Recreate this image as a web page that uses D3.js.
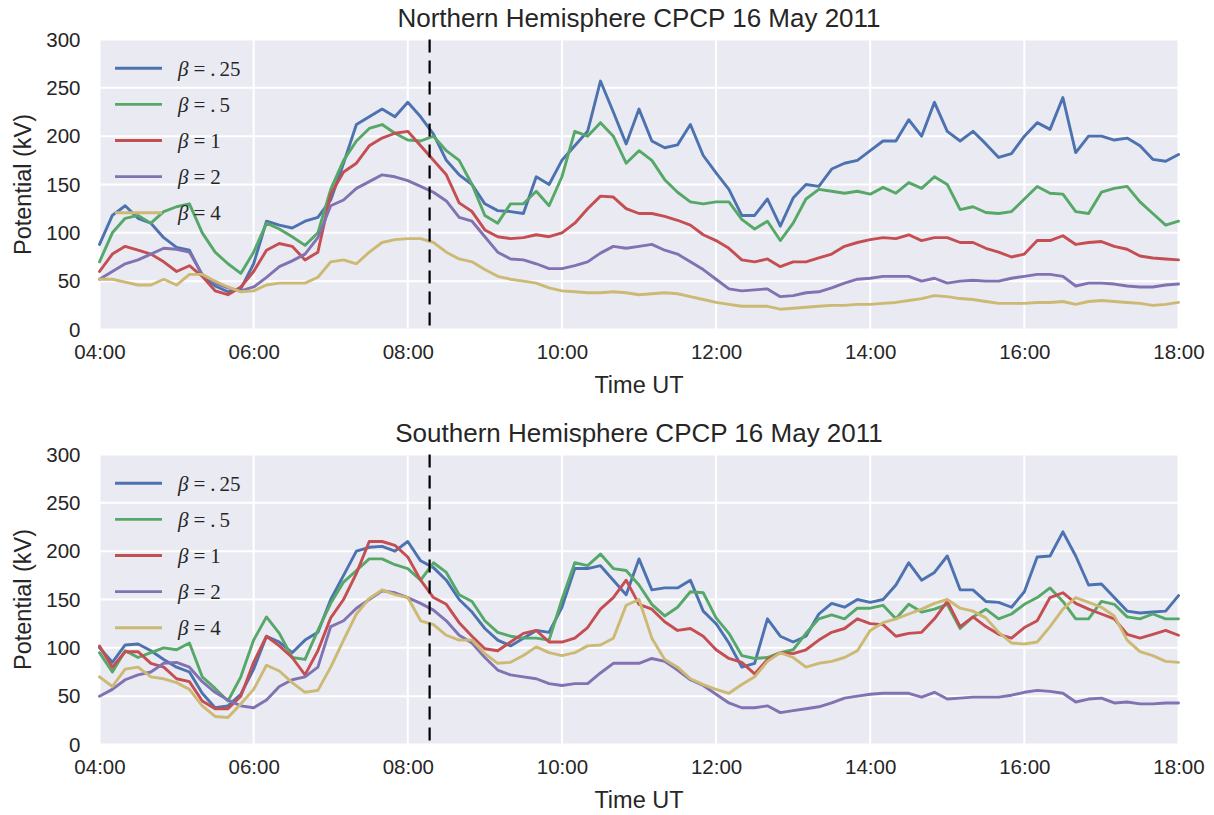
<!DOCTYPE html>
<html>
<head>
<meta charset="utf-8">
<script src="https://cdn.jsdelivr.net/npm/d3@7"></script>
<style>
  body { margin: 0; background: #ffffff; }
  svg { display: block; }
  text { font-family: "Liberation Sans", Arial, Helvetica, sans-serif; fill: #262626; }
</style>
</head>
<body>
<svg id="chart" width="1214" height="815"></svg>
<script>
// Cross polar cap potential, 16 May 2011, sampled every 10 minutes from 04:00 to 18:00 UT
const startTime = new Date(Date.UTC(2011, 4, 16, 4, 0));
const endTime = new Date(Date.UTC(2011, 4, 16, 18, 0));
const sampleMinutes = 10;
const eventTime = new Date(Date.UTC(2011, 4, 16, 8, 17));

const betaLabels = [".25", ".5", "1", "2", "4"];
const betaColors = ["#4C72B0", "#55A868", "#C44E52", "#8172B2", "#CCB974"];
const potentialTicks = [0, 50, 100, 150, 200, 250, 300];
const panelTitles = ["Northern Hemisphere CPCP 16 May 2011", "Southern Hemisphere CPCP 16 May 2011"];

// Northern hemisphere (kV)
const northBeta025 = [88,118,128,115,110,95,85,82,56,45, 39,42,68,112,108,105,112,116,134,172,
  212,220,228,220,235,220,202,175,160,150, 130,123,122,120,158,150,175,190,205,257,
  225,192,228,195,188,191,212,180,162,145, 118,118,135,107,136,150,148,166,172,175,
  185,195,195,217,200,235,205,195,205,192, 178,182,200,214,207,240,183,200,200,196,
  198,190,176,174,181];
const northBeta05 = [70,100,115,118,110,122,127,130,100,80, 68,58,80,110,104,96,87,100,145,175,
  195,208,212,203,196,195,200,185,175,150, 118,110,130,130,143,128,158,205,200,214,
  200,172,185,175,155,142,132,130,132,132, 114,104,112,92,110,135,145,143,141,143,
  140,147,141,152,146,158,150,124,127,121, 120,122,135,148,141,140,122,120,142,146,
  148,132,120,108,112];
const northBeta1 = [60,78,86,82,78,70,60,66,55,40, 36,44,60,82,89,86,72,80,140,163,
  172,190,198,203,205,190,175,160,131,122, 103,96,94,95,98,96,100,110,125,138,
  137,125,120,120,117,113,108,98,92,84, 72,70,73,65,70,70,74,78,86,90,
  93,95,94,98,92,95,95,90,90,84, 80,75,78,92,92,97,88,90,91,86,
  83,76,74,73,72];
const northBeta2 = [52,60,68,72,78,84,83,80,57,48, 43,40,44,54,65,71,78,95,128,134,
  146,153,160,158,154,148,142,133,116,112, 96,80,73,72,68,63,63,66,70,79,
  86,84,86,88,82,78,70,62,52,42, 40,41,42,34,35,38,39,43,48,52,
  53,55,55,55,50,53,48,50,51,50, 50,53,55,57,57,55,45,48,48,47,
  45,44,44,46,47];
const northBeta4 = [52,52,49,46,46,52,46,57,57,50, 44,39,40,46,48,48,48,54,70,72,
  68,80,90,93,94,94,90,80,73,70, 62,55,52,50,48,43,40,39,38,38,
  39,38,36,37,38,37,34,31,28,26, 24,24,24,21,22,23,24,25,25,26,
  26,27,28,30,32,35,34,32,31,29, 27,27,27,28,28,29,26,29,30,29,
  28,27,25,26,28];

// Southern hemisphere (kV)
const southBeta025 = [100,85,103,104,97,88,80,75,53,38, 40,52,78,112,106,95,108,116,150,175,
  200,204,205,200,210,190,183,170,150,137, 120,108,102,110,118,116,142,182,182,185,
  170,155,192,160,162,162,170,138,125,105, 80,84,130,112,106,112,135,146,142,150,
  147,150,165,188,170,178,195,160,160,148, 147,142,158,194,195,220,195,165,166,152,
  138,136,137,138,154];
const southBeta05 = [95,75,97,90,95,100,98,105,70,58, 45,70,108,132,115,90,88,118,146,168,
  180,192,192,186,182,170,188,178,155,148, 128,116,112,110,110,108,150,188,185,197,
  182,180,165,145,133,142,158,157,131,115, 92,89,90,95,98,115,130,134,130,141,
  141,144,130,145,137,140,145,120,132,140, 130,135,145,152,162,148,130,130,148,145,
  132,130,135,130,130];
const southBeta1 = [102,80,96,96,84,80,68,65,45,37, 37,50,85,112,102,90,72,97,131,150,
  177,210,210,206,194,170,152,145,126,112, 99,97,106,115,118,106,106,110,121,140,
  152,170,145,140,127,118,120,112,98,89, 85,73,88,95,94,98,108,116,120,130,
  125,124,112,115,116,130,148,122,132,122, 114,110,121,128,152,157,146,140,135,130,
  114,110,114,118,113];
const southBeta2 = [50,57,67,72,75,84,85,80,65,54, 46,40,38,46,60,67,70,80,122,128,
  141,150,159,157,152,146,139,128,113,105, 90,77,72,70,68,63,61,63,63,74,
  84,84,84,89,86,77,67,61,52,43, 38,38,40,33,35,37,39,43,48,50,
  52,53,53,53,49,54,47,48,49,49, 49,51,54,56,55,53,44,47,48,43,
  44,42,42,43,43];
const southBeta4 = [70,60,78,80,70,68,64,57,40,29, 28,42,57,82,76,64,54,56,80,108,
  135,151,160,155,152,128,124,113,108,108, 94,84,85,92,101,95,92,95,102,103,
  110,144,150,110,88,80,68,62,57,53, 62,70,86,95,90,80,84,86,90,97,
  118,126,130,135,140,146,150,141,138,131, 116,105,104,106,122,140,152,147,142,133,
  108,96,92,86,85];

const northSeries = [northBeta025, northBeta05, northBeta1, northBeta2, northBeta4];
const southSeries = [southBeta025, southBeta05, southBeta1, southBeta2, southBeta4];

const svg = d3.select("#chart");
const plotLeft = 99.5, plotRight = 1178.5, plotHeight = 290;
const panelTops = [39.5, 454.5];

const x = d3.scaleUtc().domain([startTime, endTime]).range([plotLeft, plotRight]);
const sampleTime = i => new Date(startTime.getTime() + i * sampleMinutes * 60000);
const hourFormat = d3.utcFormat("%H:%M");

function drawPanel(top, title, seriesList) {
  const y = d3.scaleLinear().domain([0, 300]).range([top + plotHeight, top]);
  const g = svg.append("g");

  g.append("rect")
    .attr("x", plotLeft).attr("y", top)
    .attr("width", plotRight - plotLeft).attr("height", plotHeight)
    .attr("fill", "#EAEAF2");

  const xTicks = x.ticks(d3.utcHour.every(2));
  g.append("g").selectAll("line.v").data(xTicks).join("line")
    .attr("x1", d => x(d)).attr("x2", d => x(d))
    .attr("y1", top).attr("y2", top + plotHeight)
    .attr("stroke", "#ffffff").attr("stroke-width", 2);
  g.append("g").selectAll("line.h").data(potentialTicks).join("line")
    .attr("x1", plotLeft).attr("x2", plotRight)
    .attr("y1", d => y(d)).attr("y2", d => y(d))
    .attr("stroke", "#ffffff").attr("stroke-width", 2);

  // axes: labels only, no spines or tick marks
  const xAxis = g.append("g")
    .attr("transform", `translate(0,${top + plotHeight})`)
    .call(d3.axisBottom(x).tickValues(xTicks).tickFormat(hourFormat).tickSize(0).tickPadding(15));
  const yAxis = g.append("g")
    .attr("transform", `translate(${plotLeft},0)`)
    .call(d3.axisLeft(y).tickValues(potentialTicks).tickSize(0).tickPadding(19));
  [xAxis, yAxis].forEach(a => {
    a.select(".domain").remove();
    a.attr("font-family", null).attr("font-size", null);
    a.selectAll("text").attr("font-size", 20.5).attr("fill", "#262626");
  });

  const line = d3.line()
    .x((d, i) => x(sampleTime(i)))
    .y(d => y(d));

  seriesList.forEach((values, k) => {
    g.append("path")
      .datum(values)
      .attr("d", line)
      .attr("fill", "none")
      .attr("stroke", betaColors[k])
      .attr("stroke-width", 2.9)
      .attr("stroke-linejoin", "round")
      .attr("stroke-linecap", "round");
  });

  g.append("line")
    .attr("x1", x(eventTime)).attr("x2", x(eventTime))
    .attr("y1", top).attr("y2", top + plotHeight)
    .attr("stroke", "#000000").attr("stroke-width", 2.2)
    .attr("stroke-dasharray", "13,8");

  // legend without frame
  const legend = g.append("g");
  betaLabels.forEach((lab, k) => {
    const ly = top + 28.8 + k * 36.1;
    legend.append("line")
      .attr("x1", 115).attr("x2", 162).attr("y1", ly).attr("y2", ly)
      .attr("stroke", betaColors[k]).attr("stroke-width", 2.9);
    const t = legend.append("text")
      .attr("x", 178).attr("y", ly).attr("dy", "0.36em")
      .style("font-family", "'Liberation Serif', 'DejaVu Serif', serif")
      .attr("font-size", 21);
    t.append("tspan").attr("font-style", "italic").text("β");
    t.append("tspan").attr("dx", 5).text("=");
    if (lab.startsWith(".")) {
      t.append("tspan").attr("dx", 5).text(".");
      t.append("tspan").attr("dx", 4).text(lab.slice(1));
    } else {
      t.append("tspan").attr("dx", 5).text(lab);
    }
  });

  g.append("text")
    .attr("x", (plotLeft + plotRight) / 2).attr("y", top - 12.5)
    .attr("text-anchor", "middle").attr("font-size", 26)
    .text(title);
  g.append("text")
    .attr("x", (plotLeft + plotRight) / 2).attr("y", top + plotHeight + 63)
    .attr("text-anchor", "middle").attr("font-size", 23.5)
    .text("Time UT");
  g.append("text")
    .attr("transform", `translate(31,${top + plotHeight / 2}) rotate(-90)`)
    .attr("text-anchor", "middle").attr("font-size", 23.5)
    .text("Potential (kV)");
}

drawPanel(panelTops[0], panelTitles[0], northSeries);
drawPanel(panelTops[1], panelTitles[1], southSeries);
</script>
</body>
</html>
